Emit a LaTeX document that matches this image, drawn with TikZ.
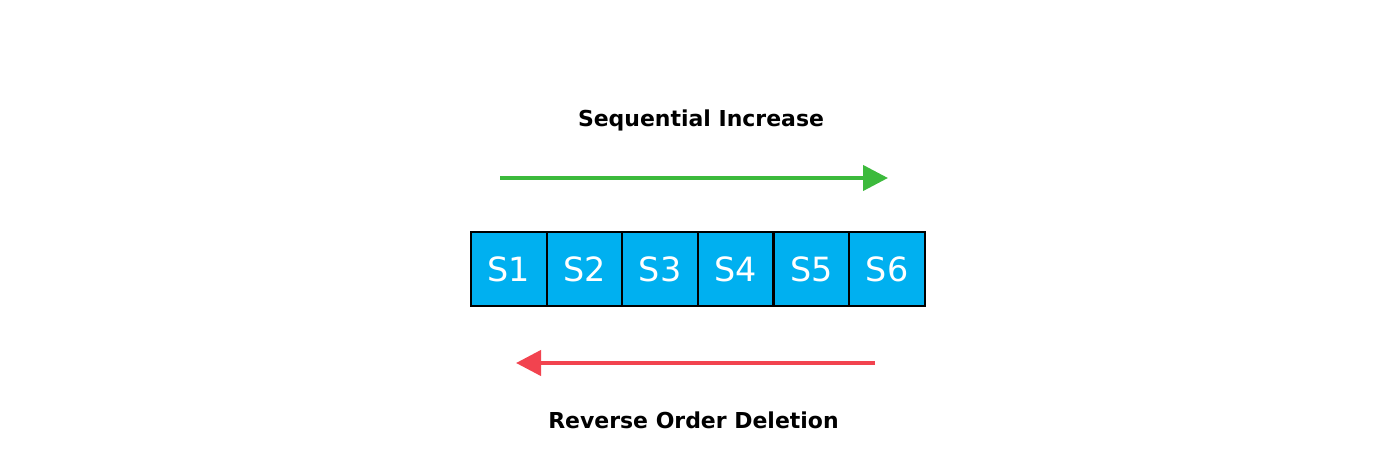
\documentclass[tikz,border=0pt]{standalone}
\usepackage{fontspec}
\setmainfont{DejaVu Sans}
\usepackage{tikz}
\usetikzlibrary{arrows.meta, positioning}
\usepackage{xcolor}
\definecolor{cellblue}{HTML}{00B0F0}
\definecolor{incgreen}{HTML}{3CBA3C}
\definecolor{delred}{HTML}{F2434F}

\begin{document}
\begin{tikzpicture}[
>={Triangle[length=0.5cm,width=0.5cm]},
cell/.style={draw=black,fill=cellblue,line width=1.3pt,outer sep=0pt,minimum width=1.513cm,minimum height=1.48cm,inner sep=0pt,text=white,font=\fontsize{19}{22}\selectfont},
caption/.style={font=\bfseries\fontsize{12.5}{15}\selectfont},
]
\useasboundingbox (0,0) rectangle (28,9.18);
\node[cell,anchor=west] (S1) at (9.42,3.8) {S1};
\node[cell,right=0pt of S1] (S2) {S2};
\node[cell,right=0pt of S2] (S3) {S3};
\node[cell,right=0pt of S3] (S4) {S4};
\node[cell,right=0pt of S4] (S5) {S5};
\node[cell,right=0pt of S5] (S6) {S6};

\node[caption] (inc) at (14.02,6.78) {Sequential Increase};
\node[caption] (del) at (13.87,0.78) {Reverse Order Deletion};

\coordinate (g1) at (10.0,5.62);
\coordinate (g2) at (17.76,5.62);
\coordinate (r1) at (17.5,1.92);
\coordinate (r2) at (10.32,1.92);

\draw[->,incgreen,line width=2.4pt] (g1) -- (g2);
\draw[->,delred,line width=2.4pt] (r1) -- (r2);
\end{tikzpicture}
\end{document}
